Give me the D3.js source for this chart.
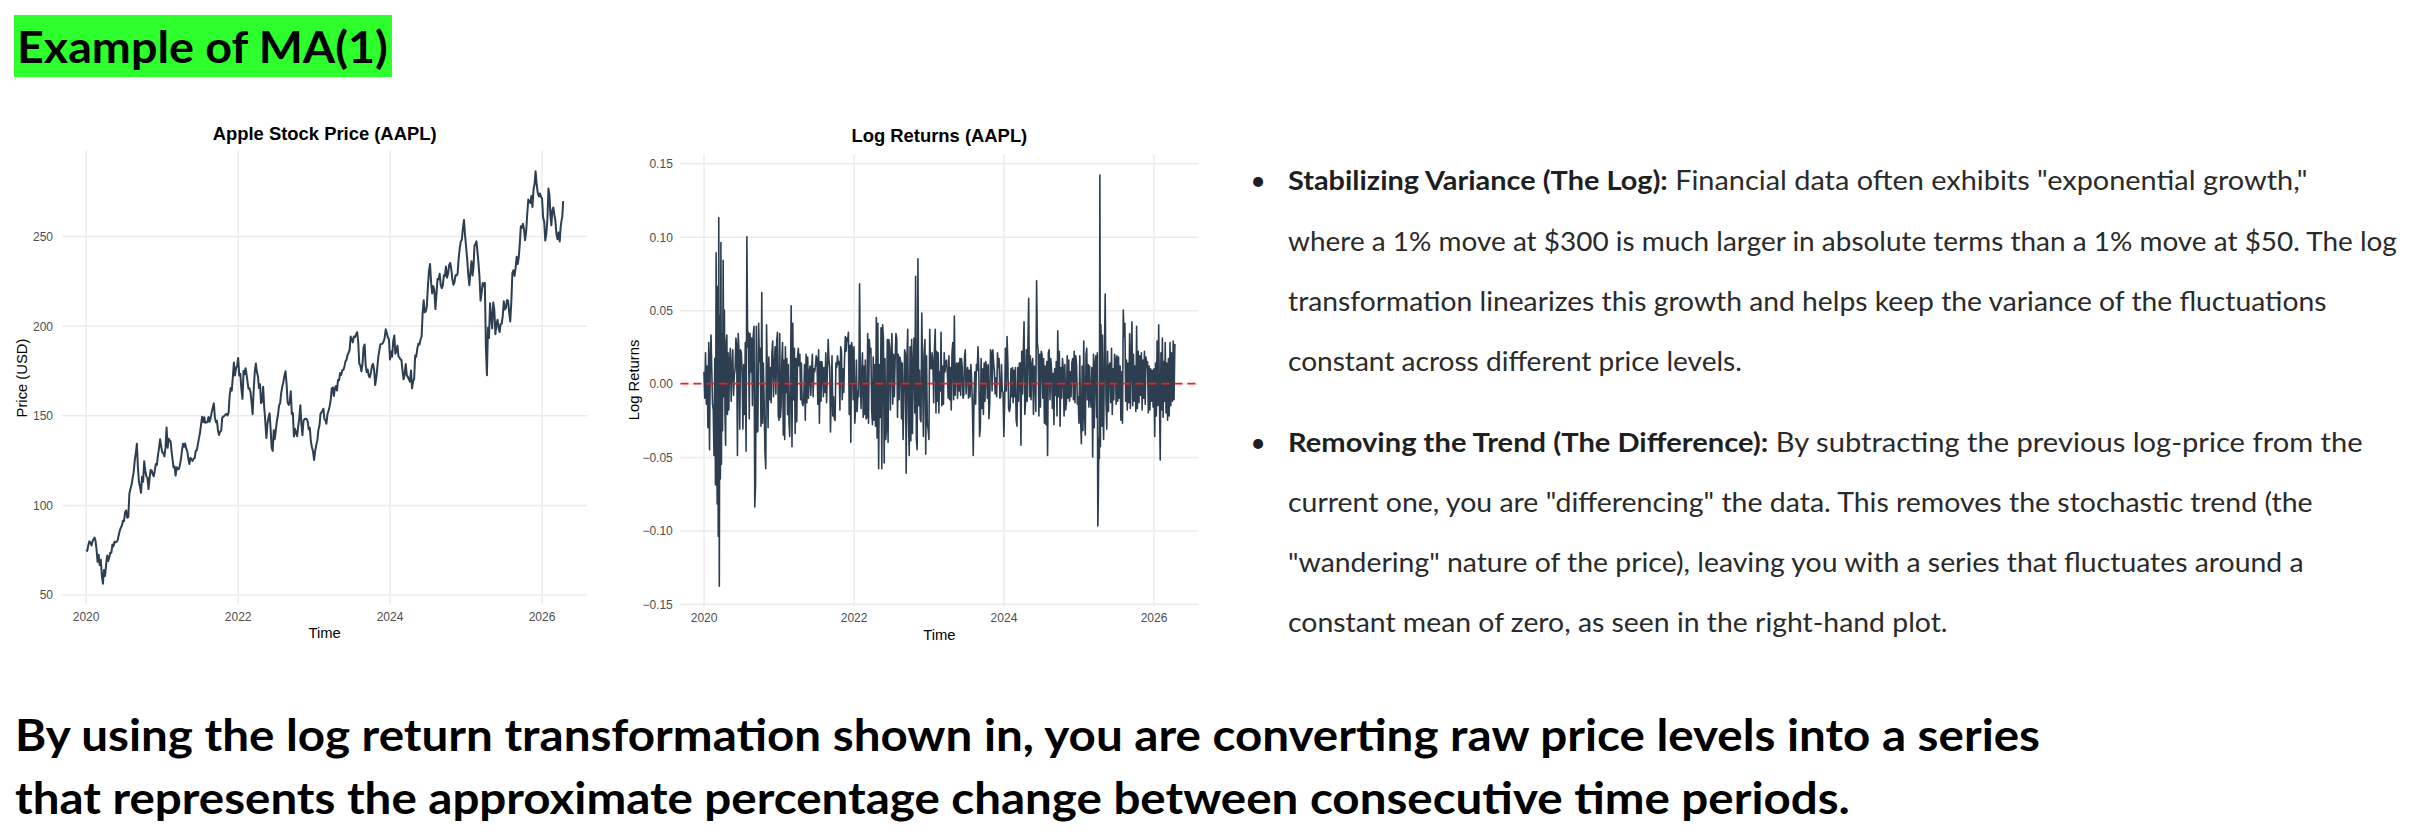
<!DOCTYPE html>
<html><head><meta charset="utf-8">
<script src="https://cdn.jsdelivr.net/npm/d3@7"></script>
<style>html,body{margin:0;padding:0;background:#fff;}svg{display:block}</style>
</head><body>
<script>
// ---------------- DATA ----------------
const months = [
 "2020-01","2020-02","2020-03","2020-04","2020-05","2020-06","2020-07","2020-08","2020-09","2020-10","2020-11","2020-12",
 "2021-01","2021-02","2021-03","2021-04","2021-05","2021-06","2021-07","2021-08","2021-09","2021-10","2021-11","2021-12",
 "2022-01","2022-02","2022-03","2022-04","2022-05","2022-06","2022-07","2022-08","2022-09","2022-10","2022-11","2022-12",
 "2023-01","2023-02","2023-03","2023-04","2023-05","2023-06","2023-07","2023-08","2023-09","2023-10","2023-11","2023-12",
 "2024-01","2024-02","2024-03","2024-04","2024-05","2024-06","2024-07","2024-08","2024-09","2024-10","2024-11","2024-12",
 "2025-01","2025-02","2025-03","2025-04","2025-05","2025-06","2025-07","2025-08","2025-09","2025-10","2025-11","2025-12",
 "2026-01","2026-02","2026-03","2026-04"];
const seriesEnd = "2026-04-17";

// AAPL closing price (USD), ~weekly readings per month
const priceByMonth = [
 [75.1,74.4,77.5,79.7,79.1,77.4],[79.7,80.9,81.8,79.8,75.0,68.3],[72.3,66.5,69.5,60.6,56.1,63.7],[60.4,66.5,71.8,68.8,70.7,73.4],
 [73.3,77.9,76.9,79.5,79.2,79.5],[80.5,83.4,85.7,87.4,88.4,91.2],[91.0,95.9,97.0,92.9,93.3,106.3],[108.9,111.1,115.0,118.3,124.8,129.0],
 [134.2,120.9,112.8,110.3,106.8,115.8],[113.0,124.4,119.0,116.0,115.3,108.9],[114.9,119.5,119.3,117.3,116.0,119.0],[122.9,122.4,127.9,131.9,136.7,132.7],
 [129.4,128.8,127.1,132.0,143.2,131.9],[137.0,136.0,135.4,129.7,125.4,121.0],[121.4,116.4,121.0,119.9,120.1,122.2],[125.9,130.4,134.2,132.5,134.3,131.5],
 [130.2,125.9,122.8,126.3,125.4,124.6],[125.9,126.1,130.2,130.5,133.7,137.0],[140.0,144.6,149.2,146.2,149.0,145.9],[146.1,146.1,149.1,146.4,148.6,151.8],
 [154.3,156.7,149.0,146.1,146.9,141.5],[139.1,140.9,141.5,148.8,149.3,149.8],[150.4,150.8,150.0,151.3,161.0,165.3],[163.8,171.2,179.5,172.3,176.3,177.6],
 [182.0,172.2,173.1,164.5,159.2,174.8],[172.9,176.3,172.8,168.9,164.9,165.1],[163.2,157.4,150.6,164.0,174.1,178.9],[174.3,171.8,165.3,167.4,156.8,157.7],
 [166.0,154.5,146.5,137.4,145.4,148.8],[151.2,142.6,131.9,130.1,141.7,136.7],[141.6,147.0,150.2,155.4,156.8,162.5],[166.1,168.5,172.1,174.6,167.6,157.2],
 [155.8,157.4,163.4,150.7,151.3,138.2],[142.5,140.1,138.4,143.8,148.3,155.7],[145.0,138.9,146.9,148.0,148.1,148.0],[146.6,142.2,143.2,135.5,132.2,129.9],
 [125.1,130.2,133.4,135.9,141.9,144.3],[150.8,151.7,152.6,153.7,147.9,147.4],[145.3,150.6,152.6,155.0,158.3,165.0],[165.6,160.8,165.2,166.4,163.8,169.7],
 [169.6,173.6,172.6,175.2,175.4,177.3],[180.1,181.0,183.8,184.9,186.7,194.0],[192.5,190.7,194.0,193.7,195.1,196.4],[191.2,178.9,177.8,174.5,178.6,187.9],
 [189.5,178.2,174.2,175.5,172.0,171.2],[173.7,177.5,178.7,175.5,166.9,170.8],[176.7,182.9,186.4,189.7,189.8,190.0],[191.2,193.2,198.0,195.9,193.6,192.5],
 [181.2,185.6,182.7,191.6,194.5,184.4],[185.9,188.9,183.0,182.3,181.2,180.8],[175.1,170.1,173.0,178.7,172.3,171.5],[170.0,168.8,175.0,165.0,169.0,170.3],
 [183.4,182.7,187.4,190.0,189.5,192.3],[194.0,207.2,214.2,207.5,208.1,210.6],[221.6,230.5,234.4,224.3,218.0,222.1],[219.9,209.3,217.5,226.1,225.9,229.0],
 [222.8,220.9,222.5,228.2,227.8,233.0],[226.8,229.0,233.9,235.0,231.4,225.9],[222.9,224.2,228.2,228.0,229.0,237.3],[243.0,246.8,248.1,254.5,259.0,250.4],
 [243.9,236.9,228.3,222.6,229.9,236.0],[228.0,232.6,244.6,245.6,247.1,241.8],[235.3,227.5,214.0,218.3,223.8,222.1],[223.9,188.4,172.4,198.9,193.2,212.5],
 [205.4,198.5,212.9,208.8,195.3,200.9],[203.3,198.8,196.5,201.0,201.1,205.2],[213.6,209.1,210.0,214.4,213.9,207.6],[202.4,213.3,229.4,231.0,227.8,232.1],
 [238.5,234.4,238.2,245.5,255.5,254.6],[256.9,254.0,247.7,252.3,262.2,270.4],[269.1,268.5,272.4,266.3,275.9,278.9],[286.2,278.8,274.1,272.2,273.8,271.9],
 [271.0,260.3,258.2,247.5,251.3,259.5],[276.5,273.0,262.0,256.0,264.5,266.0],[262.0,258.5,251.0,248.3,252.0,247.0],[255.0,258.5,261.0,269.5]
];

// AAPL daily log returns, readings per month
const returnsByMonth = [
 [0.008,-0.010,0.021,-0.014,0.012,-0.030,0.028,-0.045],
 [0.017,0.033,0.009,-0.014,-0.018,-0.049,0.017,-0.069],
 [0.089,-0.032,-0.082,0.066,-0.104,0.113,-0.138,0.046,-0.065,0.096,-0.055,0.034],
 [-0.032,0.084,-0.009,0.050,-0.021,-0.042,0.029,0.033,-0.021,0.021],
 [-0.018,0.015,0.024,-0.012,0.011,0.023,-0.008,0.006],
 [0.010,0.031,0.026,-0.049,0.034,0.022,-0.031,0.023],
 [0.021,0.008,-0.031,0.013,-0.021,0.028,-0.046,0.100],
 [0.025,0.035,-0.024,0.034,0.008,0.031,-0.015,0.033],
 [0.039,-0.084,-0.069,0.039,-0.033,-0.032,0.041,0.015],
 [0.024,-0.029,0.062,-0.027,0.014,-0.013,-0.047,-0.058],
 [0.040,0.007,-0.030,0.018,-0.011,0.011,-0.013,0.021],
 [0.029,-0.009,0.012,0.025,-0.007,0.029,0.035,-0.022],
 [-0.025,0.034,-0.023,-0.015,0.016,0.028,-0.035,0.016,-0.038],
 [0.025,-0.006,0.017,-0.021,0.013,-0.026,-0.036,0.001],
 [0.053,-0.043,0.041,-0.011,0.024,-0.034,0.017,-0.026],
 [0.018,0.024,0.012,0.020,-0.011,0.014,-0.013,-0.015],
 [-0.012,0.013,-0.025,0.020,-0.013,0.018,-0.010,0.008],
 [0.012,-0.008,0.009,0.020,-0.009,0.010,0.008,0.012],
 [0.019,0.017,-0.014,0.023,-0.027,0.015,-0.012,0.015],
 [0.010,-0.009,0.011,-0.006,0.021,-0.013,0.007,0.030],
 [0.016,0.011,-0.033,-0.009,0.019,-0.022,-0.009,-0.024],
 [-0.025,0.014,0.011,0.019,0.013,0.015,-0.018,0.025],
 [0.022,-0.011,0.010,-0.006,0.017,0.032,0.022,0.031],
 [0.029,0.035,-0.021,0.026,-0.040,0.028,0.023,-0.011],
 [0.025,-0.027,-0.017,0.016,-0.019,-0.005,-0.009,0.068],
 [0.007,-0.017,0.008,0.021,-0.023,0.012,-0.021,0.016],
 [-0.024,-0.023,0.034,-0.027,0.030,0.021,0.024,-0.018],
 [-0.028,0.018,-0.025,0.013,-0.029,0.045,-0.037,0.041],
 [-0.058,0.013,-0.023,0.038,-0.058,0.040,0.031,-0.054],
 [0.017,-0.038,-0.030,0.030,-0.040,0.030,0.025,-0.018],
 [0.019,0.034,-0.014,0.020,-0.009,0.016,0.034,0.031],
 [-0.023,0.020,-0.011,0.018,0.015,-0.024,0.014,-0.038],
 [-0.011,0.023,0.020,-0.061,0.016,0.037,-0.025,-0.049],
 [0.025,-0.039,0.030,-0.034,0.014,0.031,-0.020,0.073],
 [-0.038,-0.045,0.085,-0.015,0.009,-0.024,-0.026,0.048],
 [0.010,-0.036,0.021,0.030,-0.048,0.019,-0.028,-0.031],
 [-0.038,0.037,0.011,0.010,0.021,0.014,-0.013,0.024],
 [0.037,-0.020,0.022,-0.012,0.021,-0.020,0.008,-0.005],
 [0.035,-0.015,0.012,-0.014,0.021,0.008,0.015,0.016],
 [0.007,-0.010,0.019,-0.011,0.011,-0.018,0.021,0.028],
 [-0.011,0.046,-0.008,0.011,0.014,-0.010,0.014,-0.005],
 [0.017,-0.008,0.017,0.011,-0.010,-0.008,0.018,0.023],
 [-0.007,0.008,0.011,-0.010,0.009,-0.009,0.013,0.003],
 [-0.016,-0.049,-0.009,0.008,-0.014,0.013,0.009,0.025],
 [0.009,-0.036,-0.030,0.017,-0.017,0.010,-0.021,0.014],
 [-0.012,0.015,0.011,-0.010,0.013,-0.024,-0.013,0.023],
 [0.021,-0.005,0.023,0.014,0.009,-0.007,0.004,-0.009],
 [0.021,0.011,0.017,-0.010,-0.009,0.013,-0.005,-0.006],
 [-0.036,-0.013,0.024,-0.005,0.032,0.015,-0.017,-0.019],
 [-0.016,0.010,-0.009,0.011,-0.013,0.009,-0.009,0.011],
 [-0.025,-0.029,0.011,-0.012,0.014,0.014,-0.042,0.022],
 [-0.007,0.021,0.042,-0.021,-0.012,0.023,-0.012,0.025],
 [0.058,-0.009,0.019,-0.011,0.013,0.017,-0.021,0.012],
 [0.008,-0.019,0.070,0.028,0.023,-0.022,0.020,-0.016],
 [0.022,0.020,-0.010,0.017,-0.027,0.012,-0.028,0.015],
 [-0.049,0.021,0.023,-0.011,0.017,0.010,-0.017,0.007],
 [-0.028,0.010,-0.008,0.015,-0.022,0.036,-0.009,0.022],
 [-0.029,0.011,-0.010,0.017,0.010,-0.022,0.013,-0.018],
 [-0.013,0.019,-0.010,0.016,-0.012,0.008,-0.009,0.014],
 [0.017,-0.011,0.022,-0.013,0.019,0.012,-0.014,-0.009],
 [-0.027,0.019,-0.023,-0.041,0.012,-0.032,0.029,-0.022],
 [-0.035,0.020,0.024,-0.011,0.013,-0.016,0.012,-0.009],
 [-0.016,0.011,-0.050,0.020,-0.030,0.014,0.019,-0.023],
 [0.021,-0.097,-0.076,-0.037,-0.051,0.142,-0.043,0.040,0.022,-0.029,0.033,-0.012],
 [-0.038,0.019,0.061,-0.011,-0.031,0.022,-0.019,0.012],
 [0.014,-0.013,0.024,-0.021,0.010,-0.011,0.020,0.016],
 [-0.014,0.019,-0.012,0.018,-0.010,0.012,-0.025,0.008],
 [-0.027,0.050,0.032,0.041,-0.012,0.016,-0.018,0.014],
 [-0.013,0.034,-0.017,0.018,0.042,-0.015,0.020,-0.012],
 [0.012,-0.019,0.039,-0.017,0.022,-0.013,0.019,-0.008],
 [0.021,-0.018,0.016,-0.010,0.022,-0.014,0.018,0.011],
 [0.015,-0.020,0.012,-0.018,0.010,-0.012,0.009,-0.016],
 [0.010,-0.036,0.014,-0.022,0.029,-0.015,0.040,-0.012],
 [-0.052,0.021,-0.018,0.031,-0.023,0.015,-0.012,0.028],
 [-0.020,0.014,-0.025,0.017,-0.022,0.028,-0.015,0.021],
 [-0.012,0.029,-0.011,0.027]
];

const yearTicks = ["2020","2022","2024","2026"];
const priceTicks = [50,100,150,200,250];
const returnTicks = [-0.15,-0.10,-0.05,0,0.05,0.10,0.15];

const headline = "Example of MA(1)";
const bullet1Bold = "Stabilizing Variance (The Log):";
const bullet1Lines = [" Financial data often exhibits \"exponential growth,\"",
  "where a 1% move at $300 is much larger in absolute terms than a 1% move at $50. The log",
  "transformation linearizes this growth and helps keep the variance of the fluctuations",
  "constant across different price levels."];
const bullet2Bold = "Removing the Trend (The Difference):";
const bullet2Lines = [" By subtracting the previous log-price from the",
  "current one, you are \"differencing\" the data. This removes the stochastic trend (the",
  "\"wandering\" nature of the price), leaving you with a series that fluctuates around a",
  "constant mean of zero, as seen in the right-hand plot."];
const footerLines = ["By using the log return transformation shown in, you are converting raw price levels into a series",
  "that represents the approximate percentage change between consecutive time periods."];

// ---------------- DRAWING ----------------
const W = 2412, H = 838;
const CHART_FONT = "'Liberation Sans', Arial, Helvetica, sans-serif";
const PARA_FONT = "Lato, 'Noto Sans', sans-serif";
const svg = d3.select("body").append("svg").attr("width", W).attr("height", H);
svg.append("rect").attr("width", W).attr("height", H).attr("fill", "#fff");

const parseMonth = d3.timeParse("%Y-%m"), parseDay = d3.timeParse("%Y-%m-%d"), parseYear = d3.timeParse("%Y");
function toSeries(ms, byMonth, end) {
  const out = [];
  ms.forEach((m, i) => {
    const s = parseMonth(m), e = i < ms.length - 1 ? parseMonth(ms[i + 1]) : parseDay(end);
    const vals = byMonth[i], n = vals.length;
    vals.forEach((v, j) => out.push({date: new Date(+s + (j + 0.5) / n * (e - s)), value: v}));
  });
  return out;
}
const priceSeries = toSeries(months, priceByMonth, seriesEnd);
const returnSeries = toSeries(months, returnsByMonth, seriesEnd);

function drawPanel(c) {
  const g = svg.append("g");
  const xe = d3.extent(c.data, d => d.date), xp = (xe[1] - xe[0]) * 0.05;
  const x = d3.scaleTime().domain([new Date(+xe[0] - xp), new Date(+xe[1] + xp)]).range([c.x0, c.x1]);
  const ye = d3.extent(c.data, d => d.value), yp = (ye[1] - ye[0]) * 0.05;
  const y = d3.scaleLinear().domain([ye[0] - yp, ye[1] + yp]).range([c.y1, c.y0]);

  const gy = g.append("g").attr("transform", `translate(${c.x0},0)`)
    .call(d3.axisLeft(y).tickValues(c.yTicks).tickFormat(c.yFmt).tickSize(-(c.x1 - c.x0)).tickSizeOuter(0));
  const gx = g.append("g").attr("transform", `translate(0,${c.y1})`)
    .call(d3.axisBottom(x).tickValues(yearTicks.map(parseYear)).tickFormat(d3.timeFormat("%Y")).tickSize(-(c.y1 - c.y0)).tickSizeOuter(0));
  [gx, gy].forEach(a => {
    a.select(".domain").remove();
    a.attr("font-family", CHART_FONT).attr("font-size", 12);
    a.selectAll(".tick line").attr("stroke", "#ebebeb").attr("stroke-width", 1.5);
    a.selectAll(".tick text").attr("fill", "#4d4d4d");
  });
  gy.selectAll(".tick text").attr("x", c.yLabRight - c.x0).attr("dy", "0.36em");
  gx.selectAll(".tick text").attr("y", c.xLabBase - c.y1).attr("dy", 0);

  const line = d3.line().x(d => x(d.date)).y(d => y(d.value));
  g.append("path").datum(c.data).attr("d", line).attr("fill", "none")
    .attr("stroke", "#2c3e50").attr("stroke-width", c.lw).attr("stroke-linejoin", "round");

  if (c.zero) {
    g.append("line").attr("x1", c.x0).attr("x2", c.x1).attr("y1", y(0)).attr("y2", y(0))
      .attr("stroke", "#ff1a1a").attr("stroke-width", 1.6).attr("stroke-dasharray", "8,5");
  }
  const cx = (c.x0 + c.x1) / 2;
  g.append("text").attr("x", cx).attr("y", c.titleBase)
    .attr("text-anchor", "middle").attr("font-family", CHART_FONT).attr("font-weight", "bold")
    .attr("font-size", 18.4).attr("fill", "#000").text(c.title);
  g.append("text").attr("x", cx).attr("y", c.timeBase)
    .attr("text-anchor", "middle").attr("font-family", CHART_FONT)
    .attr("font-size", 14.8).attr("fill", "#000").text("Time");
  g.append("text").attr("transform", `translate(${c.yTitleX},${c.yTitleY}) rotate(-90)`)
    .attr("text-anchor", "middle").attr("dy", "0.36em").attr("font-family", CHART_FONT)
    .attr("font-size", 14.8).attr("fill", "#000").text(c.yTitle);
}

const minus = s => s.replace("-", "\u2212");
drawPanel({data: priceSeries, x0: 62.3, x1: 587, y0: 150.6, y1: 604.3, yTicks: priceTicks, yFmt: d3.format("d"),
  yLabRight: 53, xLabBase: 621.5, timeBase: 637.5, titleBase: 139.5, yTitleX: 21.7, yTitleY: 378,
  title: "Apple Stock Price (AAPL)", yTitle: "Price (USD)", lw: 2.0, zero: false});
drawPanel({data: returnSeries, x0: 680.4, x1: 1198.4, y0: 154.5, y1: 606.8, yTicks: returnTicks, yFmt: d => minus(d3.format(".2f")(d)),
  yLabRight: 672.8, xLabBase: 622.5, timeBase: 639.5, titleBase: 142, yTitleX: 633.5, yTitleY: 380,
  title: "Log Returns (AAPL)", yTitle: "Log Returns", lw: 1.6, zero: true});

// fit a text element horizontally between x0 and x1 at baseline
function fitText(t, x0, x1, base) {
  const w = t.node().getComputedTextLength();
  t.attr("transform", `translate(${x0},${base}) scale(${(x1 - x0) / w},1)`);
}

// headline with green highlight
svg.append("rect").attr("x", 14).attr("y", 15).attr("width", 378).attr("height", 62).attr("fill", "#2cff2c");
fitText(svg.append("text").attr("font-family", PARA_FONT).attr("font-weight", 700).attr("font-size", 44)
  .attr("fill", "#000").text(headline), 17, 388, 63);

// bullet paragraphs
function drawBullet(boldText, lines, bases, ends) {
  svg.append("text").attr("x", 1258).attr("y", bases[0]).attr("text-anchor", "middle")
    .attr("font-family", PARA_FONT).attr("font-size", 27).attr("fill", "#1f1f1f").text("\u2022");
  lines.forEach((ln, i) => {
    const t = svg.append("text").attr("font-family", PARA_FONT).attr("font-size", 27).attr("fill", "#2a2a2a");
    if (i === 0) t.append("tspan").attr("font-weight", 700).attr("fill", "#1f1f1f").text(boldText);
    t.append("tspan").text(ln);
    fitText(t, 1288, ends[i], bases[i]);
  });
}
drawBullet(bullet1Bold, bullet1Lines, [190, 250.5, 311, 371], [2308, 2397, 2327, 1742]);
drawBullet(bullet2Bold, bullet2Lines, [452, 512, 572, 632], [2363, 2313, 2304, 1948]);

// footer text
const footerEnds = [2040, 1850], footerBases = [751, 814];
footerLines.forEach((ln, i) => {
  fitText(svg.append("text").attr("font-family", PARA_FONT).attr("font-weight", 700).attr("font-size", 44.7)
    .attr("fill", "#000").text(ln), 15, footerEnds[i], footerBases[i]);
});
</script>
</body></html>
